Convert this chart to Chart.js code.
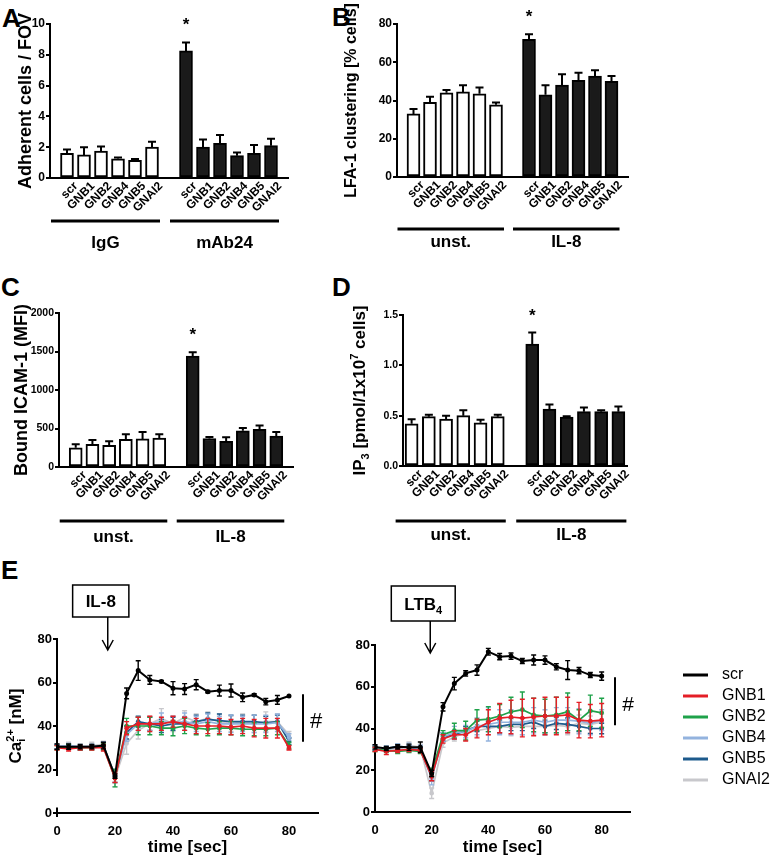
<!DOCTYPE html>
<html>
<head>
<meta charset="utf-8">
<script src="https://cdn.jsdelivr.net/npm/chart.js@4.4.0/dist/chart.umd.min.js"></script>
<style>
  body { margin: 0; background: #fff; }
  #fig { position: relative; width: 774px; height: 861px; overflow: hidden; background: #fff;
         font-family: "Liberation Sans", Arial, sans-serif; }
  canvas { position: absolute; }
  .letter { position: absolute; font-weight: bold; font-size: 26px; line-height: 26px; }
</style>
</head>
<body>
<div id="fig">
  <div class="letter" style="left:2px;top:5px">A</div>
  <div class="letter" style="left:332px;top:4px">B</div>
  <div class="letter" style="left:1px;top:274px">C</div>
  <div class="letter" style="left:332px;top:274px">D</div>
  <div class="letter" style="left:1px;top:557px">E</div>
  <canvas id="chartA"></canvas>
  <canvas id="chartB"></canvas>
  <canvas id="chartC"></canvas>
  <canvas id="chartD"></canvas>
  <canvas id="chartE1"></canvas>
  <canvas id="chartE2"></canvas>
</div>
<script>
const FONT = '"Liberation Sans", Arial, sans-serif';
Chart.defaults.font.family = FONT;
Chart.defaults.color = '#000';

// knockdowns, same order in every panel
const genes = ['scr', 'GNB1', 'GNB2', 'GNB4', 'GNB5', 'GNAI2'];

// A - adherent cells / FOV
const adhIgG = [1.6, 1.5, 1.75, 1.25, 1.15, 2.0];
const adhIgGErr = [0.25, 0.5, 0.3, 0.08, 0.08, 0.35];
const adhMAb24 = [8.25, 2.0, 2.25, 1.45, 1.6, 2.1];
const adhMAb24Err = [0.55, 0.5, 0.55, 0.2, 0.55, 0.45];

// B - LFA-1 clustering [% cells]
const lfaUnst = [33, 39, 44, 44.5, 43.5, 37.8];
const lfaUnstErr = [2.5, 3, 1.5, 3.5, 3.3, 1.1];
const lfaIL8 = [72, 43, 48, 50.5, 52.8, 50];
const lfaIL8Err = [2.7, 5, 5.7, 4, 3, 2.8];

// C - bound ICAM-1 (MFI)
const icamUnst = [250, 295, 280, 360, 365, 375];
const icamUnstErr = [45, 55, 55, 65, 90, 50];
const icamIL8 = [1440, 370, 335, 470, 490, 400];
const icamIL8Err = [50, 20, 50, 38, 50, 55];

// D - IP3
const ip3Unst = [0.42, 0.49, 0.465, 0.5, 0.43, 0.49];
const ip3UnstErr = [0.045, 0.02, 0.033, 0.055, 0.03, 0.02];
const ip3IL8 = [1.21, 0.565, 0.485, 0.54, 0.54, 0.54];
const ip3IL8Err = [0.115, 0.045, 0.008, 0.04, 0.015, 0.05];

// E - calcium traces
const timeSec = [0, 4, 8, 12, 16, 20, 24, 28, 32, 36, 40, 44, 48, 52, 56, 60, 64, 68, 72, 76, 80];
const seriesColors = ['#000000', '#e41e26', '#1fa24a', '#93b3de', '#1d5a8c', '#c8c8cc'];

// IL-8 stimulation
const il8Scr   = [30.5, 30.5, 30.5, 30.5, 31, 17, 55, 65.5, 61.2, 60.5, 57.4, 57, 59, 55.8, 56.3, 56.3, 53.2, 54.3, 51.2, 52, 53.8];
const il8Gnb1  = [30, 29.5, 30, 30, 30, 16, 39, 41, 41, 41, 42, 41, 40, 40, 40, 39.5, 40, 39, 39, 39, 30];
const il8Gnb2  = [30, 30.5, 30, 30, 30.5, 16, 40, 40, 40, 39, 39, 40, 39, 38.5, 39, 39, 38.5, 38.5, 38.5, 39, 31];
const il8Gnb4  = [30.5, 31, 30.5, 30.5, 31, 17, 36, 41, 41, 42, 41.5, 42, 41, 42, 41, 41, 41, 41, 41, 41.5, 35];
const il8Gnb5  = [30.5, 30.5, 30, 30.5, 31, 17, 37, 42, 41, 40, 41, 41, 42, 43, 42.5, 42, 42, 42, 41.5, 42, 33];
const il8Gnai2 = [30.5, 31, 30.5, 31, 31.5, 16, 32, 38, 41, 43.5, 41, 44, 42, 43.5, 42, 41, 42, 41, 42, 42, 36];
const il8ScrErr   = [1.2, 1.2, 1, 1, 1.5, 1, 2.5, 4.5, 2, 0.5, 3, 2.5, 2.3, 0.5, 2.5, 3, 2, 0.5, 1.5, 2, 0];
const il8Gnb1Err  = [1, 1, 1, 1, 1.5, 2, 3, 3, 3.5, 3, 2.5, 3, 3.5, 3.5, 3.5, 3.5, 3.5, 4, 4.5, 4.5, 1];
const il8Gnb2Err  = [1, 1, 1, 1, 1.5, 4, 3.5, 4, 4, 3, 3.5, 3.5, 3, 3, 3, 3, 3, 3, 3, 3, 1.5];
const il8Gnb4Err  = [1, 1, 1, 1, 1.5, 3, 3, 3, 3, 4, 3, 4, 3.5, 3.5, 3.5, 4, 3.5, 4, 4, 4, 1.5];
const il8Gnb5Err  = [1, 1, 1, 1, 1.5, 3, 3, 2.5, 3, 3, 3, 3, 3, 3, 3, 3, 3, 3, 3, 3, 1.5];
const il8Gnai2Err = [1, 1.5, 1, 1.5, 1.5, 4, 5, 4, 3.5, 4.5, 3.5, 3, 3.5, 3, 3.5, 3.5, 3.5, 4, 4.5, 3.5, 1.5];

// LTB4 stimulation
const ltbScr   = [31.2, 30.4, 31.2, 31, 31, 18.5, 50.4, 61.5, 66.4, 68, 76.8, 74.4, 74.7, 72.3, 72.8, 72.8, 69.6, 68, 67.7, 65.6, 65.1];
const ltbGnb1  = [30, 29, 29.5, 30, 29.5, 17, 35, 37, 37, 40, 43, 45, 45.5, 45, 45.5, 46, 46, 46.5, 44, 43.5, 44];
const ltbGnb2  = [30, 29.5, 29, 29.5, 29, 19, 37, 39, 39, 44, 44.5, 46, 48, 49, 46.5, 46, 46.5, 48, 44, 48.5, 47.5];
const ltbGnb4  = [31, 30, 31, 31, 30.5, 16, 36, 38, 38.5, 41, 42, 43, 43, 43, 44, 43, 44, 44, 43.5, 42.5, 44];
const ltbGnb5  = [30.5, 30.5, 31.5, 31, 30, 17, 36, 37, 39, 41, 41, 41, 42, 42, 43, 41, 42.5, 42, 41, 40, 40];
const ltbGnai2 = [31, 30, 29.5, 32, 31, 9, 33, 36, 38, 39, 40, 41, 40.5, 41, 41, 41, 41.5, 41, 42.5, 42, 43];
const ltbScrErr   = [1, 1, 1, 1.5, 2.5, 1.5, 2, 3, 1.3, 2.5, 1.6, 1.5, 1.5, 1.2, 2.4, 2, 1.5, 4.5, 1.5, 1.2, 2];
const ltbGnb1Err  = [1, 1.5, 1, 1, 1, 2, 2, 2, 3, 4.5, 6, 7, 8, 9, 9, 9, 9, 8.5, 8.5, 8, 8];
const ltbGnb2Err  = [1, 1, 1, 1, 1, 2, 2, 3.5, 4.5, 5, 6, 5.5, 7, 8.5, 8, 8, 8.5, 9, 5, 7.5, 7];
const ltbGnb4Err  = [1, 1, 1.5, 2, 1.5, 3, 2, 3, 3, 4, 8, 6, 6, 6, 6, 6, 6, 6, 6, 5.5, 5];
const ltbGnb5Err  = [1, 1, 1, 1, 1, 2, 2, 2, 2, 2.5, 2.5, 3, 3, 3, 3, 3, 3, 3, 2.5, 2.5, 2.5];
const ltbGnai2Err = [1, 1, 1, 1.5, 1.5, 2.5, 2, 2, 2.5, 3, 3, 3.5, 4, 4, 4, 4, 4, 4, 4, 4, 4];

// ---------- plugins ----------

// SEM bars, drawn right after their own dataset so layering follows the datasets
const errorBars = {
  id: 'errorBars',
  afterDatasetDraw(chart, args, opts) {
    const ds = chart.data.datasets[args.index];
    if (!ds.errors) return;
    const y = chart.scales.y, ctx = chart.ctx;
    const isBar = chart.config.type === 'bar';
    ctx.save();
    ctx.lineWidth = opts.width || 2;
    ctx.strokeStyle = isBar ? '#000' : ds.borderColor;
    args.meta.data.forEach((el, i) => {
      const raw = ds.data[i];
      const v = raw !== null && typeof raw === 'object' ? raw.y : raw;
      const e = ds.errors[i];
      if (v == null || e == null || e === 0) return;
      const top = y.getPixelForValue(v + e);
      const bottom = isBar ? el.y : y.getPixelForValue(v - e);
      const c = opts.cap || 4;
      ctx.beginPath();
      ctx.moveTo(el.x, bottom); ctx.lineTo(el.x, top);
      ctx.moveTo(el.x - c, top); ctx.lineTo(el.x + c, top);
      if (!isBar) { ctx.moveTo(el.x - c, bottom); ctx.lineTo(el.x + c, bottom); }
      ctx.stroke();
    });
    ctx.restore();
  }
};

// treatment groups under the rotated labels, plus the significance star
const groupLabels = {
  id: 'groupLabels',
  afterDraw(chart, args, o) {
    if (!o.groups) return;
    const x = chart.scales.x, y = chart.scales.y, ctx = chart.ctx;
    const base = chart.chartArea.bottom;
    ctx.save();
    ctx.fillStyle = '#000';
    o.groups.forEach(g => {
      const x0 = x.getPixelForValue(g.from) - 16;
      const x1 = x.getPixelForValue(g.to) + 8;
      ctx.fillRect(x0, base + o.lineGap - 1.5, x1 - x0, 3);
      ctx.font = 'bold 17px ' + FONT;
      ctx.textAlign = 'center';
      ctx.textBaseline = 'middle';
      ctx.fillText(g.name, (x0 + x1) / 2, base + o.labelGap);
    });
    const ds = chart.data.datasets[0];
    const top = y.getPixelForValue(ds.data[o.star] + ds.errors[o.star]);
    ctx.font = 'bold 17px ' + FONT;
    ctx.textAlign = 'center';
    ctx.textBaseline = 'alphabetic';
    ctx.fillText('*', x.getPixelForValue(o.star), top - 22 + 10);
    ctx.restore();
  }
};

// rotated axis title with sub/superscripts
const richTitle = {
  id: 'richTitle',
  afterDraw(chart, args, o) {
    if (!o.parts) return;
    const ctx = chart.ctx, size = o.size, small = Math.round(size * 0.62);
    const cy = (chart.chartArea.top + chart.chartArea.bottom) / 2;
    const pieces = [];
    let w = 0, lastSub = null;
    o.parts.forEach(p => {
      const f = p.pos ? small : size;
      ctx.font = 'bold ' + f + 'px ' + FONT;
      const pw = ctx.measureText(p.text).width;
      let px = w;
      if (p.pos === 'sup' && lastSub) { px = lastSub.x; w = Math.max(w, px + pw); }
      else { w += pw; }
      const piece = { text: p.text, f, x: px, dy: p.pos === 'sub' ? size * 0.22 : p.pos === 'sup' ? -size * 0.4 : 0 };
      lastSub = p.pos === 'sub' ? piece : null;
      pieces.push(piece);
    });
    ctx.save();
    ctx.translate(o.x, cy);
    ctx.rotate(-Math.PI / 2);
    ctx.fillStyle = '#000';
    ctx.textAlign = 'left';
    ctx.textBaseline = 'alphabetic';
    pieces.forEach(p => {
      ctx.font = 'bold ' + p.f + 'px ' + FONT;
      ctx.fillText(p.text, p.x - w / 2, size * 0.36 + p.dy);
    });
    ctx.restore();
  }
};

// stimulus box with arrow pointing at the addition time
const stimulus = {
  id: 'stimulus',
  afterDraw(chart, args, o) {
    if (!o.text) return;
    const ctx = chart.ctx;
    const ax = chart.scales.x.getPixelForValue(o.at);
    ctx.save();
    ctx.font = 'bold 17px ' + FONT;
    const w = ctx.measureText(o.text).width;
    let sw = 0;
    if (o.sub) { ctx.font = 'bold 11px ' + FONT; sw = ctx.measureText(o.sub).width; }
    const bw = w + sw + 26, bx = ax - 7 - bw / 2;
    ctx.strokeStyle = '#000';
    ctx.fillStyle = '#000';
    ctx.lineWidth = 1.5;
    ctx.strokeRect(bx, o.top, bw, o.height);
    const base = o.top + o.height / 2 + 6;
    ctx.font = 'bold 17px ' + FONT;
    ctx.fillText(o.text, bx + 13, base);
    if (o.sub) { ctx.font = 'bold 11px ' + FONT; ctx.fillText(o.sub, bx + 13 + w, base + 4); }
    ctx.beginPath();
    ctx.moveTo(ax, o.top + o.height); ctx.lineTo(ax, o.tip);
    ctx.moveTo(ax - 5.5, o.tip - 10); ctx.lineTo(ax, o.tip); ctx.lineTo(ax + 5.5, o.tip - 10);
    ctx.stroke();
    ctx.restore();
  }
};

// "#" bracket at the right end of the traces
const signif = {
  id: 'signif',
  afterDraw(chart, args, o) {
    if (o.from == null) return;
    const y = chart.scales.y, ctx = chart.ctx, r = chart.chartArea.right;
    const y0 = y.getPixelForValue(o.from), y1 = y.getPixelForValue(o.to);
    ctx.save();
    ctx.lineWidth = 2;
    ctx.beginPath(); ctx.moveTo(r - 15, y0); ctx.lineTo(r - 15, y1); ctx.stroke();
    ctx.font = o.size + 'px ' + FONT;
    ctx.textAlign = 'center';
    ctx.textBaseline = 'middle';
    ctx.fillText('#', r - 2, (y0 + y1) / 2 + 4);
    ctx.restore();
  }
};

// legend to the right of the LTB4 traces
const sideLegend = {
  id: 'sideLegend',
  afterDraw(chart, args, o) {
    if (!o.show) return;
    const ctx = chart.ctx, r = chart.chartArea.right;
    ctx.save();
    ctx.font = '16px ' + FONT;
    ctx.textBaseline = 'middle';
    chart.data.datasets.forEach((ds, i) => {
      const yy = chart.chartArea.top + 30 + i * 21;
      ctx.strokeStyle = ds.borderColor;
      ctx.lineWidth = 3;
      ctx.beginPath(); ctx.moveTo(r + 53, yy); ctx.lineTo(r + 78, yy); ctx.stroke();
      ctx.fillStyle = '#000';
      ctx.fillText(ds.label, r + 92, yy);
    });
    ctx.restore();
  }
};

// broken y axis of the IL-8 trace panel
const axisBreak = {
  id: 'axisBreak',
  afterDraw(chart, args, o) {
    if (o.gapTop == null) return;
    const y = chart.scales.y, ctx = chart.ctx, x = chart.chartArea.left;
    ctx.save();
    ctx.lineWidth = 2;
    ctx.beginPath();
    ctx.moveTo(x, y.getPixelForValue(y.max) - 1); ctx.lineTo(x, y.getPixelForValue(o.gapTop));
    ctx.moveTo(x, y.getPixelForValue(o.gapBottom)); ctx.lineTo(x, chart.chartArea.bottom + 4);
    ctx.stroke();
    ctx.restore();
  }
};

// ---------- builders ----------

function place(id, box) {
  const c = document.getElementById(id);
  c.width = box.w; c.height = box.h;
  c.style.left = box.l + 'px'; c.style.top = box.t + 'px';
  return c;
}

function barPanel(id, box, area, p) {
  const canvas = place(id, box);
  const pad = p.edge ? [null] : [];
  const labels = p.edge ? ['', ...genes, '', ...genes, ''] : [...genes, '', ...genes];
  const values = [...pad, ...p.ctrl, null, ...p.stim, ...pad];
  const errors = [...pad, ...p.ctrlErr, null, ...p.stimErr, ...pad];
  const first = pad.length, second = pad.length + genes.length + 1;
  const colors = values.map((v, i) => i < second ? '#ffffff' : '#1a1a1a');

  new Chart(canvas, {
    type: 'bar',
    data: {
      labels: labels,
      datasets: [{
        data: values,
        errors: errors,
        backgroundColor: colors,
        borderColor: '#000',
        borderWidth: 2,
        borderSkipped: false,
        barThickness: 13
      }]
    },
    options: {
      responsive: false,
      animation: false,
      layout: { padding: { top: area.top - box.t, right: box.l + box.w - area.right, left: 0, bottom: 0 } },
      plugins: {
        legend: { display: false },
        tooltip: { enabled: false },
        errorBars: { cap: 4, width: 2 },
        groupLabels: {
          groups: [
            { name: p.groups[0], from: first, to: first + genes.length - 1 },
            { name: p.groups[1], from: second, to: second + genes.length - 1 }
          ],
          star: second,
          lineGap: p.lineGap,
          labelGap: p.labelGap
        },
        richTitle: p.richTitle || {}
      },
      scales: {
        x: {
          offset: !p.edge,
          grid: { display: false },
          border: { color: '#000', width: 2 },
          ticks: { autoSkip: false, minRotation: 45, maxRotation: 45, padding: -7, labelOffset: 9,
                   font: { size: 12, weight: 'bold' } },
          afterFit: s => { s.height = box.t + box.h - area.bottom; }
        },
        y: {
          min: 0,
          max: p.yMax,
          ticks: { stepSize: p.yStep, padding: 1, font: { size: p.tickSize, weight: 'bold' },
                   callback: p.fmt || (v => String(v)) },
          grid: { drawOnChartArea: false, tickLength: 4, lineWidth: 2, color: '#000' },
          border: { color: '#000', width: 2 },
          title: p.title ? { display: true, text: p.title, font: { size: p.titleSize, weight: 'bold' },
                             padding: { top: p.titlePad, bottom: 0 } } : { display: false },
          afterFit: s => { s.width = area.left - box.l; }
        }
      }
    },
    plugins: [errorBars, groupLabels, richTitle]
  });
}

function tracePanel(id, box, area, series, errs, p) {
  const canvas = place(id, box);
  const datasets = series.map((vals, k) => ({
    label: genes[k],
    data: timeSec.map((t, i) => ({ x: t, y: vals[i] })),
    errors: errs[k],
    borderColor: seriesColors[k],
    backgroundColor: seriesColors[k],
    borderWidth: k === 0 ? 2 : 1.7,
    pointRadius: 1.5,
    pointHoverRadius: 0,
    tension: 0
  }));

  new Chart(canvas, {
    type: 'line',
    data: { datasets },
    options: {
      responsive: false,
      animation: false,
      layout: { padding: { top: area.top - box.t, right: box.l + box.w - area.right, left: 0, bottom: 0 } },
      plugins: {
        legend: { display: false },
        tooltip: { enabled: false },
        errorBars: { cap: 2.5, width: 1.4 },
        stimulus: p.stimulus,
        signif: p.signif,
        sideLegend: { show: !!p.legend },
        axisBreak: p.axisBreak || {},
        richTitle: p.richTitle || {}
      },
      scales: {
        x: {
          type: 'linear',
          min: 0,
          max: 90,
          grid: { display: false },
          border: { color: '#000', width: 2 },
          ticks: { stepSize: 20, includeBounds: false, padding: 3, font: { size: 13, weight: 'bold' } },
          title: { display: true, text: 'time [sec]', font: { size: 17, weight: 'bold' }, padding: { top: 0, bottom: 3 } },
          afterFit: s => { s.height = box.t + box.h - area.bottom; }
        },
        y: {
          min: 0,
          max: 80,
          ticks: { stepSize: 20, padding: 1, font: { size: 13, weight: 'bold' } },
          grid: { drawOnChartArea: false, tickLength: 4, lineWidth: 2, color: '#000' },
          border: { display: !p.axisBreak, color: '#000', width: 2 },
          afterFit: s => { s.width = area.left - box.l; }
        }
      }
    },
    plugins: [errorBars, stimulus, signif, sideLegend, axisBreak, richTitle]
  });
}

// ---------- panels ----------

barPanel('chartA', { l: 0, t: 0, w: 300, h: 260 }, { left: 50, right: 288, top: 24, bottom: 178 }, {
  ctrl: adhIgG, ctrlErr: adhIgGErr, stim: adhMAb24, stimErr: adhMAb24Err,
  groups: ['IgG', 'mAb24'], edge: true, yMax: 10, yStep: 2, tickSize: 12,
  title: 'Adherent cells / FOV', titleSize: 18, titlePad: 15, lineGap: 43, labelGap: 65
});

barPanel('chartB', { l: 330, t: 0, w: 310, h: 260 }, { left: 397, right: 628, top: 24, bottom: 177 }, {
  ctrl: lfaUnst, ctrlErr: lfaUnstErr, stim: lfaIL8, stimErr: lfaIL8Err,
  groups: ['unst.', 'IL-8'], edge: true, yMax: 80, yStep: 20, tickSize: 12,
  title: 'LFA-1 clustering [% cells]', titleSize: 16, titlePad: 12, lineGap: 52, labelGap: 65
});

barPanel('chartC', { l: 0, t: 270, w: 310, h: 290 }, { left: 59, right: 293, top: 313, bottom: 467 }, {
  ctrl: icamUnst, ctrlErr: icamUnstErr, stim: icamIL8, stimErr: icamIL8Err,
  groups: ['unst.', 'IL-8'], edge: true, yMax: 2000, yStep: 500, tickSize: 10.5,
  title: 'Bound ICAM-1 (MFI)', titleSize: 18, titlePad: 11, lineGap: 54, labelGap: 70
});

barPanel('chartD', { l: 330, t: 270, w: 310, h: 290 }, { left: 403, right: 627, top: 315, bottom: 466 }, {
  ctrl: ip3Unst, ctrlErr: ip3UnstErr, stim: ip3IL8, stimErr: ip3IL8Err,
  groups: ['unst.', 'IL-8'], edge: false, yMax: 1.5, yStep: 0.5, tickSize: 10.5,
  fmt: v => v.toFixed(1), lineGap: 55, labelGap: 69,
  richTitle: { x: 29, size: 17, parts: [
    { text: 'IP' }, { text: '3', pos: 'sub' }, { text: ' [pmol/1x10' }, { text: '7', pos: 'sup' }, { text: ' cells]' }
  ] }
});

tracePanel('chartE1', { l: 0, t: 575, w: 340, h: 286 }, { left: 57, right: 318, top: 639, bottom: 813 },
  [il8Scr, il8Gnb1, il8Gnb2, il8Gnb4, il8Gnb5, il8Gnai2],
  [il8ScrErr, il8Gnb1Err, il8Gnb2Err, il8Gnb4Err, il8Gnb5Err, il8Gnai2Err], {
  stimulus: { text: 'IL-8', at: 17.5, top: 10, height: 32, tip: 75 },
  signif: { from: 54.6, to: 32.8, size: 22 },
  axisBreak: { gapTop: 17, gapBottom: 2.5 },
  richTitle: { x: 15, size: 17, parts: [
    { text: 'Ca' }, { text: 'i', pos: 'sub' }, { text: '2+', pos: 'sup' }, { text: ' [nM]' }
  ] }
});

tracePanel('chartE2', { l: 340, t: 575, w: 434, h: 286 }, { left: 375, right: 630, top: 645, bottom: 812 },
  [ltbScr, ltbGnb1, ltbGnb2, ltbGnb4, ltbGnb5, ltbGnai2],
  [ltbScrErr, ltbGnb1Err, ltbGnb2Err, ltbGnb4Err, ltbGnb5Err, ltbGnai2Err], {
  stimulus: { text: 'LTB', sub: '4', at: 19.5, top: 11, height: 35, tip: 78 },
  signif: { from: 64.5, to: 41.6, size: 21 },
  legend: true
});
</script>
</body>
</html>
